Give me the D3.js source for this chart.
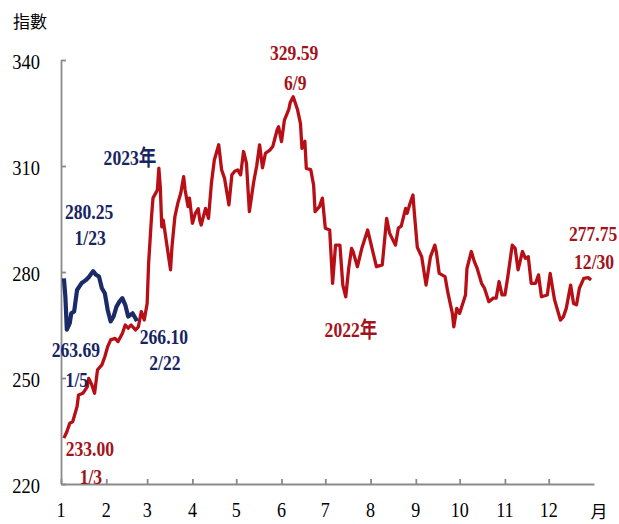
<!DOCTYPE html>
<html><head><meta charset="utf-8">
<script src="https://cdn.jsdelivr.net/npm/d3@7/dist/d3.min.js"></script>
<style>
html,body{margin:0;padding:0;background:#fff;}
svg{display:block;}
</style></head>
<body>
<svg id="chart" width="619" height="524"></svg>
<script>
// ---- data ----
const yTicks = [220, 250, 280, 310, 340];
const monthLabels = ["1","2","3","4","5","6","7","8","9","10","11","12"];
const monthStarts = ["01-01","02-01","03-01","04-01","05-01","06-01","07-01","08-01","09-01","10-01","11-01","12-01"];
const yAxisTitle = "指數";
const xAxisUnit = "月";
const seriesNames = ["2022年", "2023年"];

const series2022 = [
["01-03",233.00],["01-05",234.8],["01-07",237.2],["01-09",237.6],["01-12",241.9],["01-13",245.2],["01-16",245.7],["01-19",247.5],["01-20",249.9],["01-22",248.2],["01-24",245.7],["01-26",252.3],["01-29",253.7],["01-31",256.0],
["02-02",258.9],["02-04",260.8],["02-07",261.2],["02-09",260.3],["02-12",262.6],["02-14",265.0],["02-16",264.1],["02-18",265.0],["02-21",263.6],["02-23",264.5],["02-25",268.8],["02-27",266.4],
["03-01",271.1],["03-02",282.5],["03-03",289.0],["03-04",295.7],["03-05",300.9],["03-08",303.2],["03-09",309.4],["03-10",304.0],["03-11",292.8],["03-12",294.7],["03-13",291.9],["03-15",286.2],["03-17",280.6],["03-18",287.2],["03-20",295.7],["03-22",299.5],["03-24",302.3],["03-26",307.0],["03-27",303.2],["03-29",298.5],["03-30",300.9],
["04-01",293.8],["04-03",296.6],["04-05",297.9],["04-06",294.7],["04-07",293.3],["04-10",298.0],["04-12",295.2],["04-14",305.1],["04-16",311.7],["04-19",316.0],["04-21",308.9],["04-23",306.5],["04-26",299.0],["04-28",307.5],["04-30",308.5],
["05-02",308.9],["05-04",307.5],["05-06",314.1],["05-08",310.8],["05-10",297.1],["05-13",305.6],["05-15",310.0],["05-17",316.0],["05-19",309.5],["05-21",313.6],["05-24",314.5],["05-26",315.5],["05-29",320.2],["05-30",321.1],
["06-01",316.9],["06-03",323.0],["06-06",326.0],["06-07",328.0],["06-09",329.59],["06-12",325.9],["06-14",322.0],["06-15",315.0],["06-17",317.0],["06-18",309.3],["06-21",309.0],["06-23",304.6],["06-24",297.1],["06-27",298.5],["06-29",300.9],
["07-01",292.4],["07-04",291.9],["07-06",276.8],["07-08",287.6],["07-11",287.6],["07-13",276.3],["07-15",273.0],["07-17",281.0],["07-19",286.7],["07-20",285.8],["07-23",281.5],["07-26",286.7],["07-30",291.9],
["08-02",286.7],["08-05",281.5],["08-09",282.0],["08-12",295.2],["08-14",291.0],["08-18",287.6],["08-20",292.4],["08-22",293.0],["08-25",298.0],["08-26",296.6],["08-28",299.4],["08-30",301.8],["08-31",296.6],
["09-02",287.0],["09-05",284.3],["09-08",276.3],["09-11",284.3],["09-14",287.6],["09-15",285.8],["09-17",279.6],["09-21",278.7],["09-23",274.0],["09-26",268.3],["09-27",264.5],["09-29",269.7],
["10-01",268.3],["10-05",273.5],["10-06",281.0],["10-09",285.8],["10-11",283.0],["10-13",281.0],["10-16",276.8],["10-18",275.4],["10-21",271.6],["10-24",272.6],["10-26",272.6],["10-28",277.3],["10-30",273.5],
["11-01",273.5],["11-03",278.7],["11-06",287.6],["11-08",286.7],["11-10",280.6],["11-13",285.8],["11-15",283.9],["11-17",284.3],["11-19",276.8],["11-22",276.8],["11-24",279.2],["11-26",273.0],["11-30",273.5],
["12-02",279.6],["12-05",272.1],["12-09",266.4],["12-11",267.3],["12-13",269.7],["12-16",276.3],["12-18",271.1],["12-20",270.7],["12-22",275.4],["12-25",278.2],["12-28",278.4],["12-30",277.75]
];

const series2023 = [
["01-03",278.2],["01-04",273.0],["01-05",263.69],["01-07",265.5],["01-08",268.3],["01-10",268.8],["01-12",274.9],["01-15",276.8],["01-18",277.7],["01-20",278.5],["01-23",280.25],["01-25",279.2],["01-27",278.7],["01-29",275.4],["01-31",274.0],
["02-02",269.2],["02-04",266.0],["02-06",267.4],["02-08",270.2],["02-10",271.6],["02-12",272.6],["02-14",270.7],["02-16",267.4],["02-19",268.3],["02-21",266.9],["02-22",266.10]
];

// annotated points: [date, value, dateLabel]
const notes2022 = [["01-03",233.00,"1/3"],["06-09",329.59,"6/9"],["12-30",277.75,"12/30"]];
const notes2023 = [["01-05",263.69,"1/5"],["01-23",280.25,"1/23"],["02-22",266.10,"2/22"]];

// ---- drawing ----
const svg = d3.select("#chart");
const parse = d3.timeParse("%Y-%m-%d");
const toDate = md => parse("2022-" + md);

const x = d3.scaleTime().domain([parse("2022-01-01"), parse("2023-01-01")]).range([61, 594]);
const y = d3.scaleLinear().domain([220, 340]).range([484, 60]);

const RED = "#b80f17", RED_T = "#a3131b", NAVY = "#1b2b68", NAVY_T = "#172563", AXIS = "#8a8a8a";
const SERIF = "'Liberation Serif','Times New Roman','Noto Sans CJK TC',serif";
const SX = 0.8;

function label(g, txt, cx, cy, opts) {
  opts = opts || {};
  return g.append("text")
    .attr("transform", `translate(${cx},${cy}) scale(${opts.sx || SX},1)`)
    .attr("text-anchor", opts.anchor || "middle")
    .attr("dominant-baseline", "central")
    .attr("font-family", opts.font || SERIF)
    .attr("font-size", opts.size || 22)
    .attr("font-weight", opts.weight || "normal")
    .attr("fill", opts.fill || "#000")
    .text(txt);
}

// axes
const xAxis = d3.axisBottom(x).tickValues(monthStarts.map(toDate)).tickSizeInner(-5).tickSizeOuter(0).tickFormat("");
const gx = svg.append("g").attr("transform", `translate(0,${y(220)})`).call(xAxis);
const yAxis = d3.axisLeft(y).tickValues(yTicks).tickSizeInner(-5).tickSizeOuter(0).tickFormat("");
const gy = svg.append("g").attr("transform", `translate(${x.range()[0]},0)`).call(yAxis);
[gx, gy].forEach(g => {
  g.selectAll("path,line").attr("stroke", AXIS).attr("stroke-width", 1.8);
});

// tick labels
const labels = svg.append("g");
yTicks.forEach(v => label(labels, String(v), 40, y(v) + 1, {anchor: "end", size: 22, sx: 0.84}));
monthStarts.forEach((m, i) => label(labels, monthLabels[i], x(toDate(m)), 510, {size: 21, sx: 0.86}));
label(labels, xAxisUnit, 599, 510, {size: 17, sx: 1, font: "'Noto Sans CJK TC',serif"});
label(labels, yAxisTitle, 30, 20, {size: 17, sx: 1, font: "'Noto Sans CJK TC',serif"});

// lines
const line = d3.line().x(d => x(toDate(d[0]))).y(d => y(d[1]));
svg.append("path").datum(series2022).attr("d", line)
  .attr("fill", "none").attr("stroke", RED).attr("stroke-width", 3.3).attr("stroke-linejoin", "round");
svg.append("path").datum(series2023).attr("d", line)
  .attr("fill", "none").attr("stroke", NAVY).attr("stroke-width", 4.2).attr("stroke-linejoin", "round");

// annotations
const ann = svg.append("g");
const B = {weight: "bold", size: 22};
function note(n, fill, dx, dy1, dy2) {
  const px = x(toDate(n[0])), py = y(n[1]);
  label(ann, n[1].toFixed(2), px + dx, py + dy1, Object.assign({fill}, B));
  label(ann, n[2], px + dx + 1, py + dy2, Object.assign({fill}, B));
}
note(notes2022[0], RED_T, 26, 10, 38);
note(notes2022[1], RED_T, 1, -45, -15);
note(notes2022[2], RED_T, 2, -47, -19);
note(notes2023[0], NAVY_T, 9, 20, 50);
note(notes2023[1], NAVY_T, -4, -60, -34);
note(notes2023[2], NAVY_T, 27, 15, 41);

label(ann, seriesNames[1], 130, 157, Object.assign({fill: NAVY_T}, B));
label(ann, seriesNames[0], 351, 329, Object.assign({fill: RED_T}, B));
</script>
</body></html>
